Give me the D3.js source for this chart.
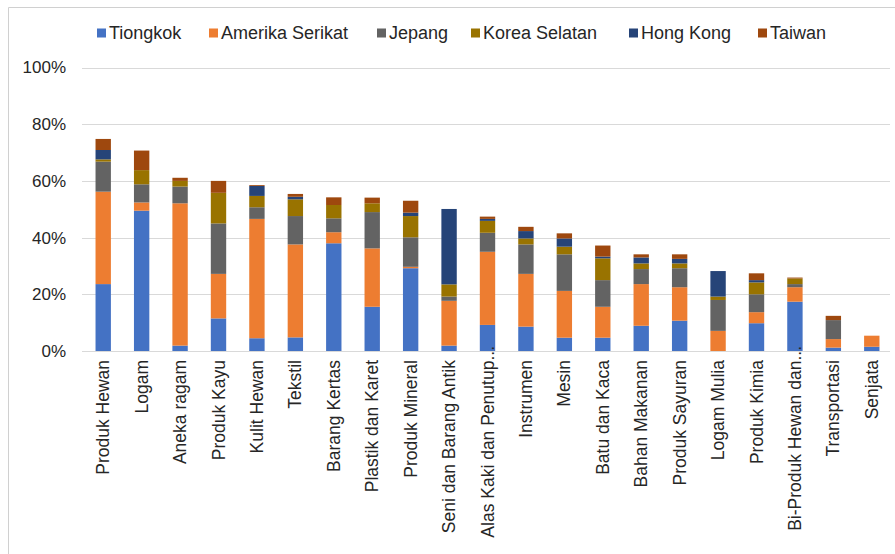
<!DOCTYPE html>
<html>
<head>
<meta charset="utf-8">
<script src="https://cdn.jsdelivr.net/npm/d3@7"></script>
<style>
  html, body { margin: 0; padding: 0; background: #fff; }
  svg { display: block; font-family: "Liberation Sans", Arial, sans-serif; }
</style>
</head>
<body>
<svg id="chart" width="895" height="554"></svg>
<script>
// ---- data (percent) ----
const categories = ["Produk Hewan","Logam","Aneka ragam","Produk Kayu","Kulit Hewan","Tekstil","Barang Kertas","Plastik dan Karet","Produk Mineral","Seni dan Barang Antik","Alas Kaki dan Penutup...","Instrumen","Mesin","Batu dan Kaca","Bahan Makanan","Produk Sayuran","Logam Mulia","Produk Kimia","Bi-Produk Hewan dan...","Transportasi","Senjata"];
const seriesNames = ["Tiongkok","Amerika Serikat","Jepang","Korea Selatan","Hong Kong","Taiwan"];
const tiongkok   = [23.6, 49.5,  1.9, 11.5,  4.5,  4.8, 38.0, 15.6, 29.2,  1.9,  9.2,  8.6,  4.7,  4.7,  8.9, 10.7,  0.0,  9.8, 17.4, 1.2, 1.5];
const amerika    = [32.6,  2.9, 50.2, 15.7, 42.1, 32.8,  3.9, 20.6,  0.5, 15.8, 25.8, 18.6, 16.5, 10.9, 14.7, 11.8,  7.1,  3.9,  5.1, 3.0, 3.9];
const jepang     = [10.6,  6.4,  5.9, 17.8,  4.1, 10.0,  4.9, 12.8, 10.4,  1.5,  6.7, 10.4, 12.9,  9.4,  5.3,  6.7, 10.9,  6.3,  1.1, 6.7, 0.0];
const korea      = [ 0.8,  5.0,  2.0, 10.8,  4.0,  5.9,  4.7,  3.1,  7.5,  4.3,  4.2,  2.1,  2.7,  7.7,  2.0,  1.7,  1.2,  4.2,  2.0, 0.0, 0.0];
const hongkong   = [ 3.3,  0.0,  0.0,  0.0,  3.5,  0.9,  0.0,  0.0,  1.2, 26.6,  0.7,  2.6,  2.9,  0.6,  2.1,  1.6,  9.0,  0.8,  0.0, 0.0, 0.0];
const taiwan     = [ 3.9,  6.9,  1.1,  4.2,  0.3,  1.0,  2.7,  2.0,  4.2,  0.0,  0.8,  1.5,  1.8,  3.9,  1.1,  1.6,  0.0,  2.4,  0.3, 1.5, 0.0];
const seriesValues = [tiongkok, amerika, jepang, korea, hongkong, taiwan];
const yTicks = [0, 20, 40, 60, 80, 100];
const yTickLabels = ["0%","20%","40%","60%","80%","100%"];

// ---- style / layout ----
const colors = ["#4472C4","#ED7D31","#636363","#997300","#264478","#9E480E"];
const legendX = [97, 209, 377, 471, 629, 758];

const svg = d3.select("#chart");

// frame
svg.append("path").attr("d","M8.5,560 V7.5 H900").attr("fill","none").attr("stroke","#d0d0d0").attr("stroke-width",1);

const x = d3.scaleBand().domain(categories).range([84, 891]).paddingInner(0.6).paddingOuter(0.3);
const y = d3.scaleLinear().domain([0, 100]).range([351, 67.5]);

// gridlines
svg.append("g").selectAll("line").data(yTicks).join("line")
  .attr("x1", 82).attr("x2", 890)
  .attr("y1", d => Math.round(y(d)) + 0.5).attr("y2", d => Math.round(y(d)) + 0.5)
  .attr("stroke", "#d9d9d9").attr("stroke-width", 1.2);

// y tick labels
svg.append("g").selectAll("text").data(yTicks).join("text")
  .attr("x", 66).attr("y", d => y(d)).attr("dy", "0.35em")
  .attr("text-anchor", "end").attr("font-size", "17px").attr("fill", "#262626")
  .text((d, i) => yTickLabels[i]);

// stacked bars
const rows = categories.map((c, i) => {
  const o = { cat: c };
  seriesNames.forEach((s, k) => o[s] = seriesValues[k][i]);
  return o;
});
const stacked = d3.stack().keys(seriesNames)(rows);
svg.append("g").selectAll("g").data(stacked).join("g")
  .attr("fill", (d, i) => colors[i])
  .selectAll("rect").data(d => d).join("rect")
  .attr("x", d => x(d.data.cat))
  .attr("width", x.bandwidth())
  .attr("y", d => y(d[1]))
  .attr("height", d => Math.max(0, y(d[0]) - y(d[1])));

// x labels
svg.append("g").selectAll("text").data(categories).join("text")
  .attr("transform", d => `translate(${x(d) + x.bandwidth() / 2},${d.endsWith("...") ? 346 : 360}) rotate(-90)`)
  .attr("dy", "0.35em")
  .attr("text-anchor", "end").attr("font-size", "17.5px").attr("fill", "#262626")
  .text(d => d);

// legend
const lg = svg.append("g").selectAll("g").data(seriesNames).join("g")
  .attr("transform", (d, i) => `translate(${legendX[i]},33)`);
lg.append("rect").attr("x", 0).attr("y", -4.5).attr("width", 9).attr("height", 9).attr("fill", (d, i) => colors[i]);
lg.append("text").attr("x", 12).attr("dy", "0.35em").attr("font-size", "18px").attr("fill", "#262626").text(d => d);
</script>
</body>
</html>
